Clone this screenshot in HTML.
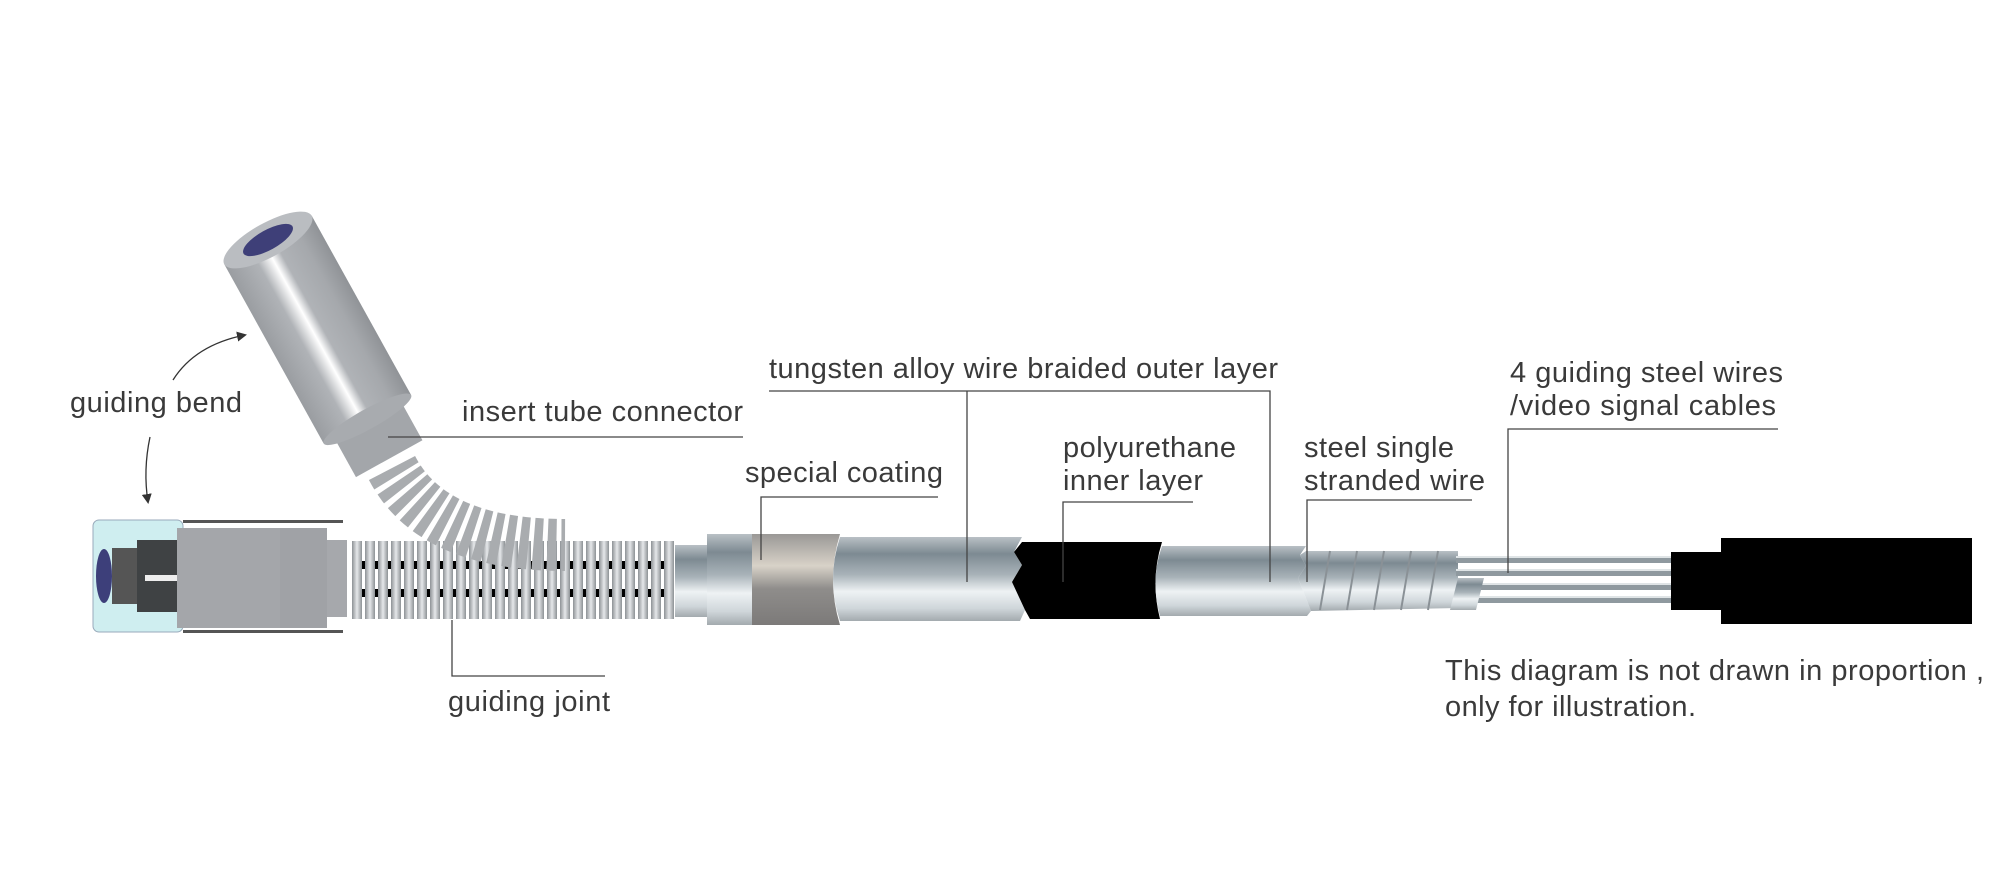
<!DOCTYPE html>
<html><head><meta charset="utf-8"><style>
html,body{margin:0;padding:0;background:#fff;}
svg{display:block}
text{font-family:"Liberation Sans",Arial,sans-serif;font-size:29px;fill:#3a3a3a;}
</style></head><body>
<svg width="1996" height="879" viewBox="0 0 1996 879" xmlns="http://www.w3.org/2000/svg">
<defs>
<linearGradient id="met" x1="0" y1="0" x2="0" y2="1">
<stop offset="0" stop-color="#b9c0c5"/><stop offset="0.2" stop-color="#7d8a92"/><stop offset="0.45" stop-color="#a9b3b9"/><stop offset="0.65" stop-color="#eef2f4"/><stop offset="0.85" stop-color="#cfd6da"/><stop offset="1" stop-color="#a3aaae"/>
</linearGradient>
<linearGradient id="coat" x1="0" y1="0" x2="0" y2="1">
<stop offset="0" stop-color="#9a9896"/><stop offset="0.35" stop-color="#d8d2c8"/><stop offset="0.6" stop-color="#8f8d8b"/><stop offset="1" stop-color="#7c7a79"/>
</linearGradient>
<linearGradient id="cyl" x1="0" y1="0" x2="1" y2="0">
<stop offset="0" stop-color="#9a9da1"/><stop offset="0.3" stop-color="#b0b3b7"/><stop offset="0.45" stop-color="#ffffff"/><stop offset="0.55" stop-color="#b0b3b7"/><stop offset="0.8" stop-color="#a5a8ac"/><stop offset="1" stop-color="#909397"/>
</linearGradient>
<linearGradient id="coil" x1="0" y1="0" x2="1" y2="0">
<stop offset="0" stop-color="#8d9296"/><stop offset="0.5" stop-color="#e6e8ea"/><stop offset="1" stop-color="#8d9296"/>
</linearGradient>
<pattern id="rib" x="352" y="0" width="13" height="100" patternUnits="userSpaceOnUse">
<rect x="0" y="0" width="10" height="100" fill="url(#coil)"/>
</pattern>
<marker id="ah" markerWidth="10" markerHeight="10" refX="8" refY="5" orient="auto" markerUnits="userSpaceOnUse">
<path d="M0,0 L10,5 L0,10 z" fill="#333"/>
</marker>
</defs>

<!-- left connector -->
<rect x="93" y="520" width="90" height="112" rx="6" fill="#cfeef0" stroke="#9ab" stroke-width="1"/>
<ellipse cx="104" cy="576" rx="8" ry="27" fill="#3d3f7a"/>
<rect x="112" y="548" width="25" height="56" fill="#555"/>
<rect x="137" y="540" width="45" height="72" fill="#3f4244"/>
<rect x="145" y="575" width="35" height="6" fill="#eee"/>
<rect x="177" y="528" width="103" height="100" fill="#a4a6aa"/>
<rect x="280" y="528" width="47" height="100" fill="#a0a2a6"/>
<rect x="183" y="520" width="160" height="3" fill="#555"/>
<rect x="183" y="630" width="160" height="3" fill="#555"/>
<rect x="327" y="540" width="20" height="77" fill="#a6a8ac"/>

<!-- guiding joint coil -->
<rect x="352" y="541" width="323" height="78" fill="#fff"/>
<rect x="352" y="541" width="323" height="78" fill="url(#rib)"/>
<g fill="#000">
<rect x="362" y="561" width="3" height="8"/><rect x="375" y="561" width="3" height="8"/><rect x="388" y="561" width="3" height="8"/><rect x="401" y="561" width="3" height="8"/><rect x="414" y="561" width="3" height="8"/><rect x="427" y="561" width="3" height="8"/><rect x="440" y="561" width="3" height="8"/><rect x="453" y="561" width="3" height="8"/><rect x="466" y="561" width="3" height="8"/><rect x="479" y="561" width="3" height="8"/><rect x="492" y="561" width="3" height="8"/><rect x="505" y="561" width="3" height="8"/><rect x="518" y="561" width="3" height="8"/><rect x="531" y="561" width="3" height="8"/><rect x="544" y="561" width="3" height="8"/><rect x="557" y="561" width="3" height="8"/><rect x="570" y="561" width="3" height="8"/><rect x="583" y="561" width="3" height="8"/><rect x="596" y="561" width="3" height="8"/><rect x="609" y="561" width="3" height="8"/><rect x="622" y="561" width="3" height="8"/><rect x="635" y="561" width="3" height="8"/><rect x="648" y="561" width="3" height="8"/><rect x="661" y="561" width="3" height="8"/>
<rect x="362" y="589" width="3" height="8"/><rect x="375" y="589" width="3" height="8"/><rect x="388" y="589" width="3" height="8"/><rect x="401" y="589" width="3" height="8"/><rect x="414" y="589" width="3" height="8"/><rect x="427" y="589" width="3" height="8"/><rect x="440" y="589" width="3" height="8"/><rect x="453" y="589" width="3" height="8"/><rect x="466" y="589" width="3" height="8"/><rect x="479" y="589" width="3" height="8"/><rect x="492" y="589" width="3" height="8"/><rect x="505" y="589" width="3" height="8"/><rect x="518" y="589" width="3" height="8"/><rect x="531" y="589" width="3" height="8"/><rect x="544" y="589" width="3" height="8"/><rect x="557" y="589" width="3" height="8"/><rect x="570" y="589" width="3" height="8"/><rect x="583" y="589" width="3" height="8"/><rect x="596" y="589" width="3" height="8"/><rect x="609" y="589" width="3" height="8"/><rect x="622" y="589" width="3" height="8"/><rect x="635" y="589" width="3" height="8"/><rect x="648" y="589" width="3" height="8"/><rect x="661" y="589" width="3" height="8"/>
</g>

<!-- bent ribs -->
<path d="M392,468 Q432,545 565,545" fill="none" stroke="#a9acaf" stroke-width="52" stroke-dasharray="9 5"/>

<!-- angled connector -->
<g transform="translate(268,240) rotate(-29)">
<rect x="-38" y="200" width="76" height="50" fill="#a3a6aa"/>
<rect x="-50" y="0" width="100" height="205" fill="url(#cyl)"/>
<ellipse cx="0" cy="205" rx="50" ry="10" fill="#a8abaf"/>
<ellipse cx="0" cy="0" rx="50" ry="17" fill="#babdc1"/>
<ellipse cx="0" cy="0" rx="28" ry="10" fill="#3e3f78"/>
</g>

<!-- transition -->
<rect x="675" y="545" width="32" height="72" fill="url(#met)"/>
<!-- special coating sleeve -->
<rect x="707" y="534" width="45" height="91" fill="url(#met)"/>
<path d="M752,534 L840,534 Q826,580 840,625 L752,625 z" fill="url(#coat)"/>
<!-- outer tube -->
<path d="M840,537 L1022,537 L1014,552 L1022,565 L1012,582 L1025,610 L1020,621 L840,621 Q826,580 840,537 z" fill="url(#met)"/>
<!-- black inner -->
<path d="M1022,542 L1162,542 Q1150,580 1160,619 L1030,619 L1025,610 L1012,582 L1022,565 L1014,552 z" fill="#000"/>
<!-- silver tube -->
<path d="M1162,546 L1306,546 L1300,555 L1306,566 L1298,578 L1311,611 L1307,616 L1160,616 Q1150,580 1162,546 z" fill="url(#met)"/>
<!-- stranded coil -->
<path d="M1306,551 L1458,551 L1458,608 L1311,611 L1298,578 L1306,566 L1300,555 z" fill="url(#met)"/>
<g stroke="#8a9196" stroke-width="2">
<line x1="1330" y1="551" x2="1320" y2="610"/><line x1="1357" y1="551" x2="1347" y2="610"/><line x1="1384" y1="551" x2="1374" y2="610"/><line x1="1411" y1="551" x2="1401" y2="610"/><line x1="1438" y1="551" x2="1428" y2="610"/>
</g>
<!-- wires -->
<g fill="#8f999f">
<rect x="1456" y="557" width="215" height="6"/><rect x="1456" y="570" width="215" height="6"/><rect x="1470" y="584" width="201" height="6"/><rect x="1470" y="597" width="201" height="6"/>
</g>
<g fill="#dfe4e6">
<rect x="1456" y="556" width="215" height="2"/><rect x="1456" y="569" width="215" height="2"/><rect x="1470" y="583" width="201" height="2"/><rect x="1470" y="596" width="201" height="2"/>
</g>
<path d="M1458,578 L1484,578 L1476,610 L1450,610 z" fill="url(#met)"/>
<!-- black end -->
<rect x="1671" y="552" width="52" height="58" fill="#000"/>
<rect x="1721" y="538" width="251" height="86" fill="#000"/>

<!-- leader lines -->
<g stroke="#444" stroke-width="1.3" fill="none">
<path d="M388,437 L743,437"/>
<path d="M769,391 L1270,391 L1270,582"/>
<path d="M967,391 L967,582"/>
<path d="M938,497 L761,497 L761,560"/>
<path d="M1193,502 L1063,502 L1063,582"/>
<path d="M1472,500 L1307,500 L1307,582"/>
<path d="M1778,429 L1508,429 L1508,573"/>
<path d="M605,676 L452,676 L452,620"/>
</g>
<!-- arrows -->
<path d="M173,380 Q195,345 245,335" fill="none" stroke="#333" stroke-width="1.3" marker-end="url(#ah)"/>
<path d="M150,437 Q143,470 148,502" fill="none" stroke="#333" stroke-width="1.3" marker-end="url(#ah)"/>

<!-- labels -->
<text x="70" y="412" textLength="172">guiding bend</text>
<text x="462" y="421" textLength="281">insert tube connector</text>
<text x="769" y="378" textLength="509">tungsten alloy wire braided outer layer</text>
<text x="745" y="482" textLength="198">special coating</text>
<text x="1063" y="457" textLength="173">polyurethane</text>
<text x="1063" y="490" textLength="140">inner layer</text>
<text x="1304" y="457" textLength="150">steel single</text>
<text x="1304" y="490" textLength="181">stranded wire</text>
<text x="1510" y="382" textLength="273">4 guiding steel wires</text>
<text x="1510" y="415" textLength="266">/video signal cables</text>
<text x="448" y="711" textLength="162">guiding joint</text>
<text x="1445" y="680" textLength="539">This diagram is not drawn in proportion ,</text>
<text x="1445" y="716" textLength="251">only for illustration.</text>
</svg>
</body></html>
